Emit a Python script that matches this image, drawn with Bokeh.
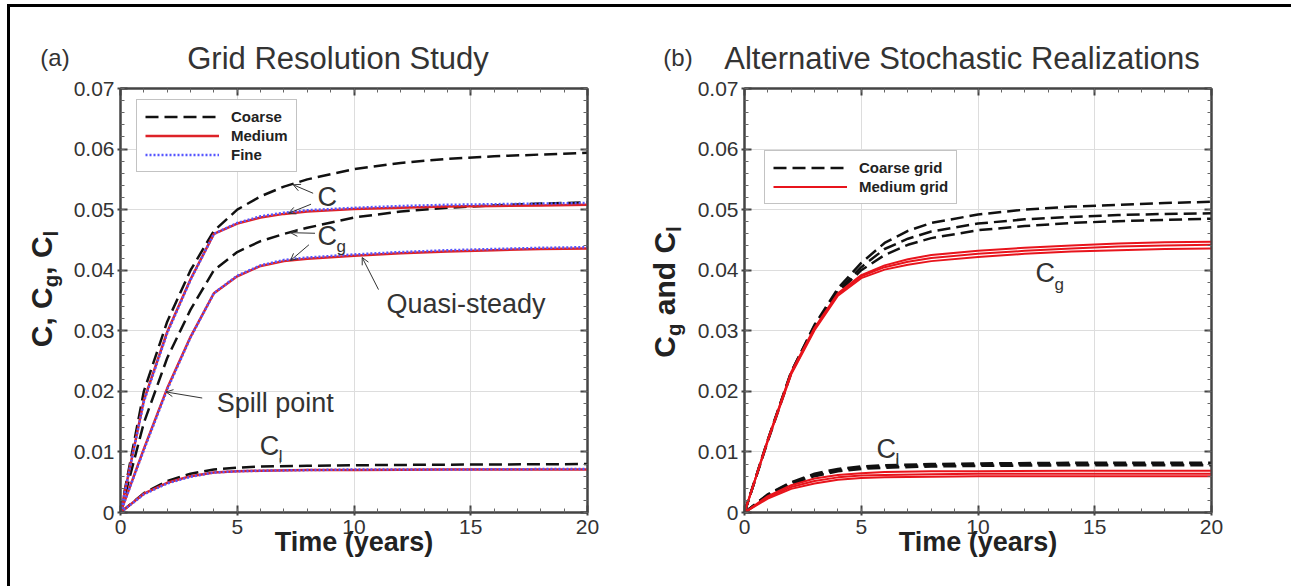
from bokeh.plotting import figure
from bokeh.models import (Range1d, LinearAxis, Label, Arrow, OpenHead, Div,
                          Legend, LegendItem, FixedTicker, CustomJSTickFormatter)
from bokeh.layouts import row, column
from bokeh.embed import file_html
from bokeh.resources import INLINE

try:
    from bokeh.models import GlobalInlineStyleSheet
except ImportError:  # pragma: no cover
    GlobalInlineStyleSheet = None

FONT = "Liberation Sans"

# ---------------- data ----------------
x_ticks = [0, 5, 10, 15, 20]
y_ticks = [0, 0.01, 0.02, 0.03, 0.04, 0.05, 0.06, 0.07]

# panel (a): grid resolution study
t_a = [0, 1, 2, 3, 4, 5, 6, 7, 8, 10, 12, 14, 16, 18, 20]
coarse_C = [0, 0.0200, 0.0315, 0.0400, 0.0465, 0.0500, 0.0522, 0.0538, 0.0550, 0.0567, 0.0577, 0.0584, 0.0588, 0.0591, 0.0594]
medium_C = [0, 0.0185, 0.0298, 0.0385, 0.0460, 0.0477, 0.0487, 0.0493, 0.0497, 0.0501, 0.0503, 0.0505, 0.0506, 0.0507, 0.0508]
fine_C = [0, 0.0183, 0.0296, 0.0384, 0.0460, 0.0478, 0.0489, 0.0495, 0.0499, 0.0503, 0.0506, 0.0508, 0.0509, 0.0510, 0.0511]
coarse_Cg = [0, 0.0148, 0.0255, 0.0335, 0.0400, 0.0430, 0.0448, 0.0460, 0.0470, 0.0487, 0.0497, 0.0503, 0.0507, 0.0510, 0.0512]
medium_Cg = [0, 0.0105, 0.0205, 0.0290, 0.0362, 0.0390, 0.0407, 0.0415, 0.0419, 0.0424, 0.0428, 0.0431, 0.0433, 0.0435, 0.0436]
fine_Cg = [0, 0.0103, 0.0203, 0.0289, 0.0362, 0.0391, 0.0408, 0.0417, 0.0421, 0.0426, 0.0430, 0.0433, 0.0435, 0.0437, 0.0438]

t_l = [0, 1, 2, 3, 4, 5, 6, 8, 10, 14, 20]
coarse_Cl = [0, 0.0032, 0.0052, 0.0064, 0.0071, 0.0074, 0.0076, 0.0077, 0.0078, 0.0079, 0.0080]
medium_Cl = [0, 0.0031, 0.0049, 0.0060, 0.0066, 0.0068, 0.0069, 0.0070, 0.0070, 0.0071, 0.0071]
fine_Cl = [0, 0.0030, 0.0048, 0.0059, 0.0066, 0.0068, 0.0069, 0.0070, 0.0071, 0.0071, 0.0072]

# panel (b): alternative stochastic realizations (3 each)
t_b = [0, 1, 2, 3, 4, 5, 6, 7, 8, 10, 12, 14, 16, 18, 20]
coarse_Cg_r1 = [0, 0.0120, 0.0232, 0.0310, 0.0370, 0.0412, 0.0445, 0.0465, 0.0478, 0.0492, 0.0500, 0.0505, 0.0508, 0.0511, 0.0513]
coarse_Cg_r2 = [0, 0.0120, 0.0232, 0.0308, 0.0366, 0.0405, 0.0435, 0.0452, 0.0464, 0.0477, 0.0484, 0.0488, 0.0491, 0.0493, 0.0494]
coarse_Cg_r3 = [0, 0.0118, 0.0230, 0.0306, 0.0363, 0.0400, 0.0425, 0.0442, 0.0453, 0.0466, 0.0473, 0.0478, 0.0481, 0.0483, 0.0485]
medium_Cg_r1 = [0, 0.0120, 0.0232, 0.0305, 0.0362, 0.0392, 0.0408, 0.0418, 0.0425, 0.0432, 0.0437, 0.0441, 0.0444, 0.0446, 0.0447]
medium_Cg_r2 = [0, 0.0120, 0.0230, 0.0303, 0.0360, 0.0390, 0.0405, 0.0414, 0.0420, 0.0427, 0.0432, 0.0436, 0.0439, 0.0441, 0.0442]
medium_Cg_r3 = [0, 0.0118, 0.0228, 0.0301, 0.0358, 0.0387, 0.0401, 0.0409, 0.0415, 0.0422, 0.0427, 0.0431, 0.0433, 0.0435, 0.0436]

coarse_Cl_r1 = [0, 0.0030, 0.0050, 0.0064, 0.0072, 0.0076, 0.0078, 0.0080, 0.0081, 0.0082, 0.0082]
coarse_Cl_r2 = [0, 0.0029, 0.0049, 0.0062, 0.0070, 0.0074, 0.0076, 0.0078, 0.0079, 0.0080, 0.0080]
coarse_Cl_r3 = [0, 0.0028, 0.0047, 0.0060, 0.0068, 0.0072, 0.0074, 0.0076, 0.0077, 0.0078, 0.0078]
medium_Cl_r1 = [0, 0.0027, 0.0045, 0.0056, 0.0062, 0.0065, 0.0067, 0.0068, 0.0068, 0.0069, 0.0069]
medium_Cl_r2 = [0, 0.0025, 0.0042, 0.0052, 0.0058, 0.0061, 0.0062, 0.0063, 0.0064, 0.0064, 0.0064]
medium_Cl_r3 = [0, 0.0023, 0.0039, 0.0048, 0.0054, 0.0057, 0.0058, 0.0059, 0.0060, 0.0060, 0.0060]

# ---------------- layout ----------------
WIN_W, WIN_H = 1291, 586
HT = 76                     # height of the title strip
HP = WIN_H - HT             # height of figures
TOP_FRAME = 88              # page y of value 0.07
FRAME_BOTTOM = 512          # page y of value 0
BOT = HT + HP - FRAME_BOTTOM
WA, WB = 66, 48             # widths of y-label strips
W1, L1, R1 = 645 - WA, 120 - WA, 58
W2, L2, R2 = WIN_W - 645 - WB, 99 - WB, WIN_W - 1211

BLACK = "#111111"
RED_A = "#dd2228"
BLUE = "#5656ff"
RED_B = "#e8141c"
TXT = "#333333"
DASH = "13 6"
NO_SCROLL = {"overflow": "hidden"}


def make_fig(width, left, right):
    p = figure(width=width, height=HP, x_range=Range1d(0, 20), y_range=Range1d(0, 0.07),
               output_backend="svg", toolbar_location=None,
               min_border_left=left, min_border_right=right,
               min_border_top=TOP_FRAME - HT, min_border_bottom=BOT)
    p.background_fill_color = "white"
    p.border_fill_color = "white"
    p.outline_line_color = "#444444"
    p.outline_line_width = 2
    bottom_ax = p.below[0]
    left_ax = p.left[0]
    bottom_ax.ticker = FixedTicker(ticks=x_ticks, minor_ticks=list(range(0, 21)))
    left_ax.ticker = FixedTicker(ticks=y_ticks, minor_ticks=[i * 0.002 for i in range(36)])
    left_ax.formatter = CustomJSTickFormatter(code="return tick == 0 ? '0' : tick.toFixed(2);")
    top_ax = LinearAxis(ticker=FixedTicker(ticks=x_ticks, minor_ticks=list(range(0, 21))),
                        formatter=CustomJSTickFormatter(code="return '';"))
    right_ax = LinearAxis(ticker=FixedTicker(ticks=y_ticks, minor_ticks=[i * 0.002 for i in range(36)]),
                          formatter=CustomJSTickFormatter(code="return '';"))
    p.add_layout(top_ax, "above")
    p.add_layout(right_ax, "right")
    for ax in (bottom_ax, left_ax, top_ax, right_ax):
        ax.axis_line_color = "#444444"
        ax.axis_line_width = 2
        ax.major_tick_line_color = "#444444"
        ax.major_tick_line_width = 2
        ax.major_tick_in = 7
        ax.major_tick_out = 3
        ax.minor_tick_line_color = "#666666"
        ax.minor_tick_line_width = 1
        ax.minor_tick_in = 4
        ax.minor_tick_out = 0
        ax.major_label_text_font = FONT
        ax.major_label_text_font_size = "21px"
        ax.major_label_text_color = TXT
    for ax in (top_ax, right_ax):
        ax.major_tick_out = 0
        ax.major_label_standoff = 0
        ax.major_label_text_font_size = "1px"
    bottom_ax.major_label_standoff = 4
    left_ax.major_label_standoff = 3
    bottom_ax.axis_label = "Time (years)"
    bottom_ax.axis_label_text_font = FONT
    bottom_ax.axis_label_text_font_size = "27px"
    bottom_ax.axis_label_text_font_style = "bold"
    bottom_ax.axis_label_text_color = "#222222"
    bottom_ax.axis_label_standoff = -10
    p.xgrid.ticker = FixedTicker(ticks=[5, 10, 15])
    p.ygrid.ticker = FixedTicker(ticks=y_ticks[1:-1])
    p.grid.grid_line_color = "#dddddd"
    p.grid.grid_line_width = 1
    p.styles = NO_SCROLL
    return p


def dlab(p, x, y, text, size, align="left", xo=0, yo=0):
    p.add_layout(Label(x=x, y=y, text=text, text_font=FONT, text_font_size=f"{size}px",
                       text_align=align, text_baseline="middle", x_offset=xo, y_offset=yo,
                       text_color=TXT))


def arrow(p, x0, y0, x1, y1, head=True):
    p.add_layout(Arrow(x_start=x0, y_start=y0, x_end=x1, y_end=y1, line_color="#333333",
                       line_width=1,
                       end=OpenHead(size=7, line_color="#333333", line_width=1) if head else None))


def legend(p, items, loc):
    p.add_layout(Legend(items=items, location=loc, orientation="vertical",
                        label_text_font=FONT, label_text_font_size="15px",
                        label_text_font_style="bold", label_text_color="#222222",
                        glyph_width=74, glyph_height=17, label_height=17, label_standoff=12,
                        spacing=2, padding=8, margin=0,
                        border_line_color="#888888", border_line_width=1,
                        background_fill_alpha=1), "center")


# ---------------- panel (a) ----------------
pa = make_fig(W1, L1, R1)
rc = pa.line(t_a, coarse_C, line_color=BLACK, line_width=2.5, line_dash=DASH)
pa.line(t_a, coarse_Cg, line_color=BLACK, line_width=2.5, line_dash=DASH)
pa.line(t_l, coarse_Cl, line_color=BLACK, line_width=2.5, line_dash=DASH)
rm = pa.line(t_a, medium_C, line_color=RED_A, line_width=2.5)
pa.line(t_a, medium_Cg, line_color=RED_A, line_width=2.5)
pa.line(t_l, medium_Cl, line_color=RED_A, line_width=2.5)
rf = pa.line(t_a, fine_C, line_color=BLUE, line_width=2.5, line_dash="2 2")
pa.line(t_a, fine_Cg, line_color=BLUE, line_width=2.5, line_dash="2 2")
pa.line(t_l, fine_Cl, line_color=BLUE, line_width=2.5, line_dash="2 2")

legend(pa, [LegendItem(label="Coarse", renderers=[rc]),
            LegendItem(label="Medium", renderers=[rm]),
            LegendItem(label="Fine", renderers=[rf])], (16, FRAME_BOTTOM - 172))

dlab(pa, 8.44, 0.0521, "C", 27)
dlab(pa, 8.44, 0.0457, "C", 27)
dlab(pa, 8.44, 0.0457, "g", 17, xo=19, yo=-11)
dlab(pa, 14.8, 0.0344, "Quasi-steady", 27, align="center")
dlab(pa, 4.12, 0.0181, "Spill point", 27)
dlab(pa, 5.96, 0.0110, "C", 27)
dlab(pa, 5.96, 0.0110, "l", 17, xo=19, yo=-11)

arrow(pa, 8.25, 0.0527, 7.4, 0.0541)
arrow(pa, 8.16, 0.0509, 7.2, 0.0494)
arrow(pa, 8.33, 0.0461, 7.28, 0.0462)
arrow(pa, 8.07, 0.0442, 7.28, 0.0416)
arrow(pa, 11.05, 0.0368, 10.35, 0.0421)
arrow(pa, 3.5, 0.0189, 1.95, 0.0199)
arrow(pa, 6.84, 0.0090, 6.84, 0.0081, head=False)

# ---------------- panel (b) ----------------
pb = make_fig(W2, L2, R2)
rcb = None
for ys in (coarse_Cg_r1, coarse_Cg_r2, coarse_Cg_r3):
    r = pb.line(t_b, ys, line_color=BLACK, line_width=2.5, line_dash=DASH)
    rcb = rcb or r
for ys in (coarse_Cl_r1, coarse_Cl_r2, coarse_Cl_r3):
    pb.line(t_l, ys, line_color=BLACK, line_width=2.5, line_dash=DASH)
rmb = None
for ys in (medium_Cg_r1, medium_Cg_r2, medium_Cg_r3):
    r = pb.line(t_b, ys, line_color=RED_B, line_width=2)
    rmb = rmb or r
for ys in (medium_Cl_r1, medium_Cl_r2, medium_Cl_r3):
    pb.line(t_l, ys, line_color=RED_B, line_width=2)

legend(pb, [LegendItem(label="Coarse grid", renderers=[rcb]),
            LegendItem(label="Medium grid", renderers=[rmb])], (20, FRAME_BOTTOM - 204))

dlab(pb, 12.46, 0.0395, "C", 27)
dlab(pb, 12.46, 0.0395, "g", 17, xo=19, yo=-11)
dlab(pb, 5.65, 0.0105, "C", 27)
dlab(pb, 5.65, 0.0105, "l", 17, xo=19, yo=-11)
arrow(pb, 6.54, 0.0090, 6.54, 0.0079, head=False)

# ---------------- surrounding text (HTML) ----------------
SUB = "<sub style='font-size:0.68em;vertical-align:-0.3em'>"


def txt(x, y, s, size, weight="normal", rot=False, color=TXT):
    tr = "translate(-50%,-50%)" + (" rotate(-90deg)" if rot else "")
    return (f"<div style=\"position:absolute;left:{x}px;top:{y}px;transform:{tr};"
            f"font-family:'{FONT}';font-size:{size}px;font-weight:{weight};color:{color};"
            f"white-space:nowrap;line-height:1\">{s}</div>")


def bar(x, y, w, h):
    return f"<div style='position:absolute;left:{x}px;top:{y}px;width:{w}px;height:{h}px;background:#000'></div>"


def box(w, h, inner):
    return f"<div style='position:relative;width:{w}px;height:{h}px;overflow:hidden'>{inner}</div>"


top_html = box(WIN_W, HT,
               bar(8, 4, WIN_W - 8, 3) + bar(7, 4, 3, HT) +
               txt(55, 58, "(a)", 24) +
               txt(338, 58, "Grid Resolution Study", 31) +
               txt(678, 58, "(b)", 24) +
               txt(962, 58, "Alternative Stochastic Realizations", 31))
left_a_html = box(WA, HP, bar(7, 0, 3, HP) +
                  txt(44, 289 - HT, f"C, C{SUB}g</sub>, C{SUB}l</sub>", 30, weight="bold",
                      rot=True, color="#222222"))
left_b_html = box(WB, HP, txt(667 - 645, 292 - HT, f"C{SUB}g</sub> and C{SUB}l</sub>", 30,
                              weight="bold", rot=True, color="#222222"))

top_div = Div(text=top_html, width=WIN_W, height=HT, margin=0, styles=NO_SCROLL)
div_a = Div(text=left_a_html, width=WA, height=HP, margin=0, styles=NO_SCROLL)
div_b = Div(text=left_b_html, width=WB, height=HP, margin=0, styles=NO_SCROLL)

inner = row(div_a, pa, div_b, pb, spacing=0, styles=NO_SCROLL)
layout = column(top_div, inner, spacing=0, styles=NO_SCROLL)
if GlobalInlineStyleSheet is not None:
    layout.stylesheets = [GlobalInlineStyleSheet(
        css="html, body { overflow: hidden !important; margin: 0; } "
            "::-webkit-scrollbar { display: none; width: 0; height: 0; }")]
open("out.html", "w").write(file_html(layout, INLINE))
